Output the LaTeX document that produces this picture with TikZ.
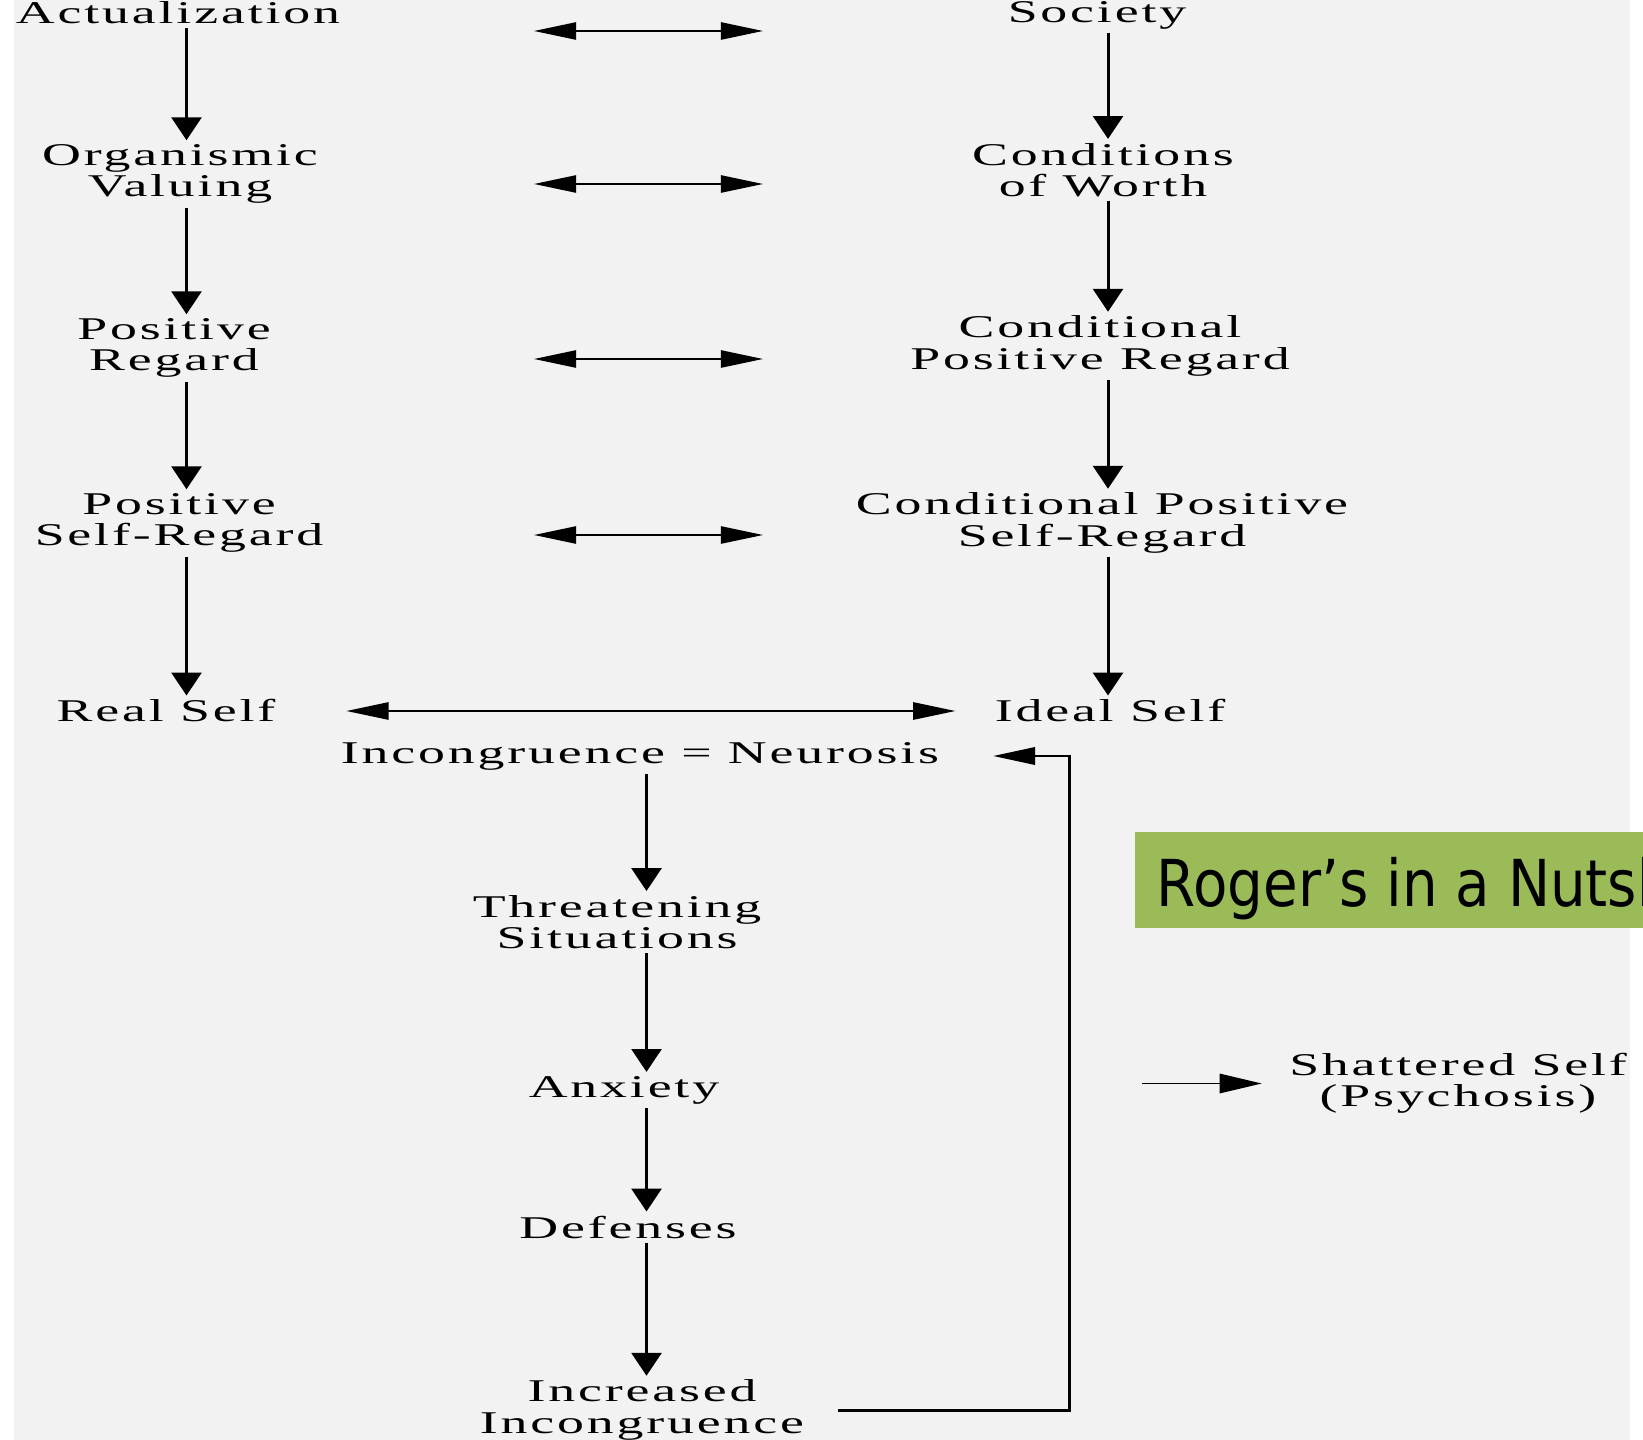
\documentclass[tikz,border=0pt]{standalone}
\usepackage{fontspec}
\usetikzlibrary{arrows.meta}
\newfontfamily\chartfont[FakeStretch=1.7,LetterSpace=9]{Liberation Serif}
\newfontfamily\headfont[FakeStretch=0.87]{DejaVu Sans}
\definecolor{panelgray}{HTML}{F2F2F2}
\definecolor{headgreen}{HTML}{9BBB59}
\tikzset{
  txt/.style={align=center,inner sep=1pt,font=\chartfont\fontsize{9}{8.9}\selectfont},
  headtxt/.style={anchor=base west,inner sep=0pt,font=\headfont\fontsize{18.4}{22}\selectfont},
  down/.style={line width=0.85pt,-{Triangle[length=6.5pt,width=8.5pt]}},
  both/.style={line width=0.55pt,{Triangle[length=12pt,width=4.9pt]}-{Triangle[length=12pt,width=4.9pt]}},
  single/.style={line width=0.55pt,-{Triangle[length=12pt,width=5.5pt]}},
  back/.style={line width=0.85pt,-{Triangle[length=12pt,width=4.9pt]}}
}
\begin{document}
\begin{tikzpicture}[x=0.01cm,y=-0.01cm]
      \useasboundingbox (0,0) rectangle (1643,1440);
      \fill[panelgray] (14,0) rectangle (1630,1440);
      \draw[every node/.style={txt}]
        (178,13) node (l0){Actualization}
        (180,174) node (l1){Organismic\\Valuing}
        (174,348) node (l2){Positive\\Regard}
        (179,523) node (l3){Positive\\Self-Regard}
        (166,711) node (l4){Real Self}
        (1097,15) node (r0){Society}
        (1103,170) node (r1){Conditions\\of Worth}
        (1100,346) node (r2){Conditional\\Positive Regard}
        (1102,523) node (r3){Conditional Positive\\Self-Regard}
        (1110,711) node (r4){Ideal Self}
        (640,756) node (m0){Incongruence = Neurosis}
        (617,922) node (m1){Threatening\\Situations}
        (624,1090) node (m2){Anxiety}
        (628,1227) node (m3){Defenses}
        (642,1410) node (m4){Increased\\Incongruence}
        (1458,1083) node (sh){Shattered Self\\(Psychosis)};
      \coordinate (cl) at (186.5,0);
      \coordinate (cr) at (1108,0);
      \coordinate (cm) at (646.5,0);
      \coordinate (cb) at (1069,0);
      \coordinate (cs) at (838,0);
      \coordinate (ct) at (993,0);
      \coordinate (a0) at (534,31);
      \coordinate (b0) at (763,31);
      \coordinate (a1) at (534,184);
      \coordinate (b1) at (763,184);
      \coordinate (a2) at (534,359);
      \coordinate (b2) at (763,359);
      \coordinate (a3) at (534,535);
      \coordinate (b3) at (763,535);
      \coordinate (s0) at (1142,1083.5);
      \begin{scope}[down]
        \draw (l0.south -| cl) to (l1.north -| cl);
        \draw (l1.south -| cl) to (l2.north -| cl);
        \draw (l2.south -| cl) to (l3.north -| cl);
        \draw (l3.south -| cl) to (l4.north -| cl);
        \draw (r0.south -| cr) to (r1.north -| cr);
        \draw (r1.south -| cr) to (r2.north -| cr);
        \draw (r2.south -| cr) to (r3.north -| cr);
        \draw (r3.south -| cr) to (r4.north -| cr);
        \draw (m0.south -| cm) to (m1.north -| cm);
        \draw (m1.south -| cm) to (m2.north -| cm);
        \draw (m2.south -| cm) to (m3.north -| cm);
        \draw (m3.south -| cm) to (m4.north -| cm);
      \end{scope}
      \begin{scope}[both]
        \draw (a0) to (b0);
        \draw (a1) to (b1);
        \draw (a2) to (b2);
        \draw (a3) to (b3);
        \draw[shorten <=19pt,shorten >=10pt] (l4) to (r4);
      \end{scope}
      \draw[back]
        (m4.east -| cs) -- (m4.east -| cb) -- (m0.east -| cb) -- (m0.east -| ct);
      \draw[single,shorten >=6.6pt] (s0) to (s0 -| sh.west);
      \fill[white] (1630,0) rectangle (1643,1440);
      \fill[headgreen] (1135,832) rectangle (1643,928);
      \node[headtxt] (head) at (1156,906) {Roger’s in a Nutshell};
    \end{tikzpicture}
\end{document}
